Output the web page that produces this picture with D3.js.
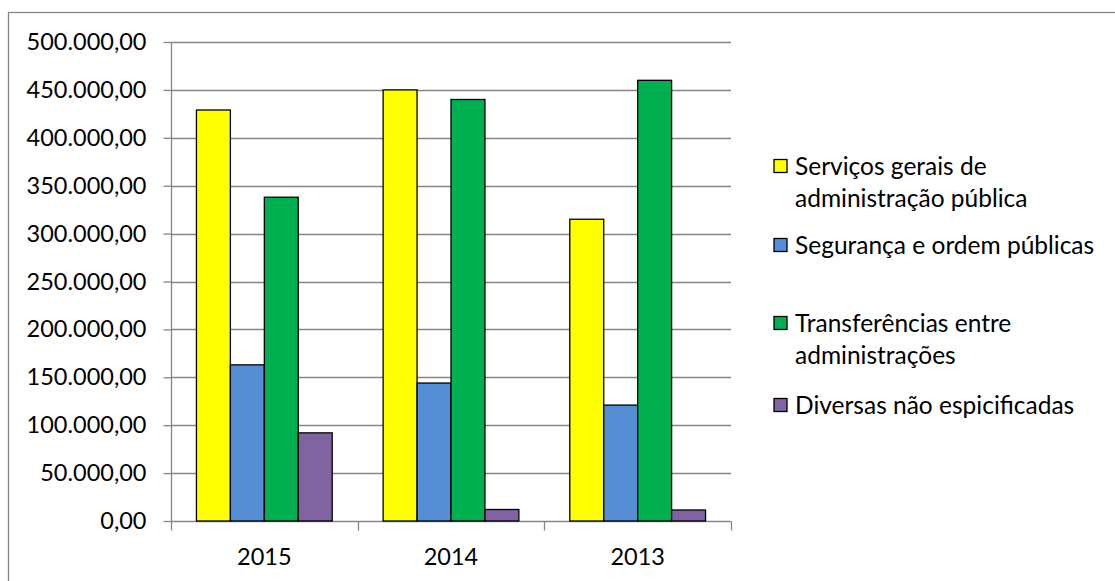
<!DOCTYPE html>
<html><head><meta charset="utf-8">
<script src="https://cdn.jsdelivr.net/npm/d3@7"></script>
<style>body{margin:0;background:#fff}svg{display:block}text{font-family:Lato,"Open Sans",sans-serif;fill:#000}</style>
</head><body>
<svg id="c" width="1115" height="581"></svg>
<script>
const categories = ["2015", "2014", "2013"];
const seriesNames = [
  ["Serviços gerais de", "administração pública"],
  ["Segurança e ordem públicas"],
  ["Transferências entre", "administrações"],
  ["Diversas não espicificadas"]
];
const servicosGerais = [429000, 450000, 315000];
const seguranca = [163000, 144000, 121000];
const transferencias = [338000, 440000, 460000];
const diversas = [92000, 12000, 11500];
const yTicks = [0, 50000, 100000, 150000, 200000, 250000, 300000, 350000, 400000, 450000, 500000];
const colors = ["#FFFF00", "#558ED5", "#00B050", "#8064A2"];

(function () {
const series = [servicosGerais, seguranca, transferencias, diversas];
const svg = d3.select("#c");
const pL = 171, pR = 731, pT = 42, pB = 521;
const fontSize = 23.5;
const legendFont = 24.5;

// outer border
svg.append("rect").attr("x", 8.5).attr("y", 12.5).attr("width", 1120).attr("height", 600)
  .attr("fill", "none").attr("stroke", "#868686").attr("stroke-width", 1.3);

const x = d3.scaleBand().domain(categories).range([pL, pR]).padding(0);
const y = d3.scaleLinear().domain([0, 500000]).range([pB, pT]);
const gap = 1.5;
const bw = x.bandwidth() / (series.length + gap);
const xi = d3.scaleBand().domain(d3.range(series.length)).range([bw * gap / 2, x.bandwidth() - bw * gap / 2]).padding(0);

// gridlines
svg.append("g").selectAll("line").data(yTicks.filter(d => d > 0)).join("line")
  .attr("x1", pL).attr("x2", pR).attr("y1", d => Math.round(y(d)) + 0.5).attr("y2", d => Math.round(y(d)) + 0.5)
  .attr("stroke", "#868686").attr("stroke-width", 1.3);

// y axis
const yAxis = svg.append("g").attr("transform", `translate(${pL + 0.5},0)`)
  .call(d3.axisLeft(y).tickValues(yTicks).tickSize(8).tickPadding(17)
    .tickFormat(d => d3.format(",.2f")(d).replace(/,/g, "#").replace(/\./g, ",").replace(/#/g, ".")));
yAxis.select(".domain").attr("stroke", "#868686").attr("stroke-width", 1.3).attr("d", `M0,${pT}V${pB}`);
yAxis.selectAll(".tick line").attr("stroke", "#868686").attr("stroke-width", 1.3);
yAxis.selectAll(".tick text").attr("font-size", fontSize).attr("font-family", "Lato").attr("fill", "#000");

// x axis
const xAxisG = svg.append("g").attr("transform", `translate(0,${pB + 0.5})`);
xAxisG.append("line").attr("x1", pL).attr("x2", pR).attr("stroke", "#868686").attr("stroke-width", 1.3);
const bounds = [pL].concat(categories.map(c => x(c) + x.bandwidth()));
xAxisG.selectAll(".tk").data(bounds).join("line").attr("class", "tk")
  .attr("x1", d => Math.round(d) + 0.5).attr("x2", d => Math.round(d) + 0.5).attr("y1", 0).attr("y2", 9)
  .attr("stroke", "#868686").attr("stroke-width", 1.3);
xAxisG.selectAll(".lbl").data(categories).join("text").attr("class", "lbl")
  .attr("x", d => x(d) + x.bandwidth() / 2).attr("y", 43).attr("text-anchor", "middle")
  .attr("font-size", fontSize).text(d => d);

// bars
series.forEach((vals, si) => {
  svg.append("g").selectAll("rect").data(vals).join("rect")
    .attr("x", (d, i) => x(categories[i]) + xi(si))
    .attr("width", bw)
    .attr("y", d => y(d))
    .attr("height", d => pB - y(d))
    .attr("fill", colors[si]).attr("stroke", "#000").attr("stroke-width", 1.3);
});

// legend
const legendY = [166, 245, 323, 405];
const lg = svg.append("g");
seriesNames.forEach((lines, i) => {
  lg.append("rect").attr("x", 774).attr("y", legendY[i] - 6.5).attr("width", 13).attr("height", 13)
    .attr("fill", colors[i]).attr("stroke", "#000").attr("stroke-width", 1.3);
  lines.forEach((t, j) => {
    lg.append("text").attr("x", 795).attr("y", legendY[i] + j * 32).attr("dy", "0.35em")
      .attr("font-size", legendFont).text(t);
  });
});
})();
</script>
</body></html>
